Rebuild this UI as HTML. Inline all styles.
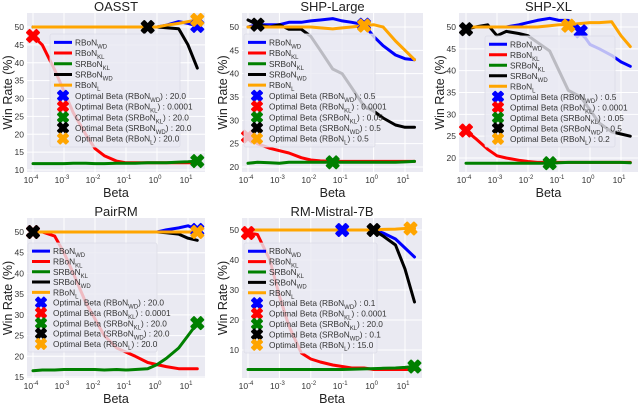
<!DOCTYPE html>
<html><head><meta charset="utf-8">
<style>
body{margin:0;background:#fff;}
svg{display:block;font-family:"Liberation Sans","DejaVu Sans",sans-serif;}
</style></head>
<body>
<svg id="fig" width="640" height="404" viewBox="0 0 640 404" xmlns="http://www.w3.org/2000/svg"></svg>
<script>
// ---- data ----
const betas=[1e-4,2e-4,5e-4,1e-3,2e-3,5e-3,1e-2,2e-2,5e-2,0.1,0.2,0.5,1,2,5,10,20];
const seriesNames=["RBoN_WD","RBoN_KL","SRBoN_KL","SRBoN_WD","RBoN_L"];
const oasstWD=[50,50,50,50,50,50,50,50,50,50,50,50,50,50.5,51.5,51,50.3];
const oasstKL=[47.5,45,38,32,26,20,16,14,12.5,12,12,12,12,12,12,12,12];
const oasstSRKL=[11.8,11.8,11.8,11.8,11.9,11.9,11.8,11.8,11.9,11.9,11.9,12,12,12,12.2,12.3,12.5];
const oasstSRWD=[50,50,50,50,50,50,50,50,50,50,50,50,50,49.8,49.5,45,38.5];
const oasstL=[50,50,50,50,50,50,50,50,50,50,50,50,50,50.5,51,51.5,52];
const oasstOpt=[[20,50.3],[1e-4,47.5],[20,12.5],[0.5,50],[20,52]];
const oasstOptLabels=["20.0","0.0001","20.0","20.0","20.0"];
const shplWD=[50,50.5,50.5,50.5,51,51,51.3,51.5,51.8,51.3,51,50.5,48,46,44,43.2,43];
const shplKL=[26.5,25,24,23.5,23,22,21.5,21.3,21.2,21.2,21.2,21.2,21.2,21.2,21.2,21.2,21.2];
const shplSRKL=[20.8,21,20.9,20.8,21,21,21,21,21,21,21,21,21,21,21,21.1,21.2];
const shplSRWD=[51.5,50.5,50,50.5,49.5,49.5,48,45,41,40,37,33,32,30.5,29,28.5,28.5];
const shplL=[50,50,50,50,50,50,50,49.8,49.6,49.8,50,50.3,50.5,50,47,45,43];
const shplOpt=[[0.5,50.5],[1e-4,26.5],[0.05,21],[2e-4,50.5],[0.5,50.3]];
const shplOptLabels=["0.5","0.0001","0.05","0.5","0.5"];
const shpxWD=[50,50,50,50,50,50.5,51,51.5,52,51.5,51.5,49,46,45,43.5,42,41];
const shpxKL=[26.3,24.5,22,20.5,20,19.5,19.2,19,19,19,19,19,19,19,19,19,19];
const shpxSRKL=[18.8,18.8,18.8,18.8,18.8,18.8,18.8,18.8,18.8,18.9,19,19,19,19,19,19,18.9];
const shpxSRWD=[49.5,50,50.5,48,49,48.5,48,46.5,44.5,40,35.5,34,31,28,26,25.5,25];
const shpxL=[50,50,50,50,50,50,50,50,50.3,50.5,50.5,50.8,51,51,51.2,48,45.5];
const shpxOpt=[[0.5,49],[1e-4,26.3],[0.05,18.8],[1e-4,49.5],[0.2,50.3]];
const shpxOptLabels=["0.5","0.0001","0.05","0.5","0.2"];
const pairWD=[50,50,50,50,50,50,50,50,50,50,50,50,50,50.5,51,51.5,50.5];
const pairKL=[50,50,49,45,40,33,29,25,22,21,20,18.5,18,17.5,17,17,17];
const pairSRKL=[16.5,16.7,16.7,16.8,16.8,16.8,16.8,16.7,16.8,16.7,16.8,17,18,19.5,22,25,28];
const pairSRWD=[50,50,50,50,50,50,50,50,50,50,50,50,50,49.8,49.5,48.5,48];
const pairL=[50,50,50,50,50,50,50,50,50,50,50,50,50,50,50,50,50];
const pairOpt=[[20,50.5],[1e-4,50],[20,28],[1e-4,50],[20,50]];
const pairOptLabels=["20.0","0.0001","20.0","20.0","20.0"];
const mistWD=[50,50,50,50,50,50,50,50,50,50,50,50,50,49,47,44,41];
const mistKL=[49,48.5,40,28,18,9,7,6,5,4.5,4,4,3.5,3.5,3.5,3.5,3.5];
const mistSRKL=[3.5,3.5,3.5,3.5,3.5,3.5,3.5,3.5,3.5,3.5,3.6,3.7,3.8,3.9,4,4.2,4.5];
const mistSRWD=[50,50,50,50,50,50,50,50,50,50,50,50,50,48,45,37,26];
const mistL=[50,50,50,50,50,50,50,50,50,50,50,50,50,50.2,50.3,50.5,50.5];
const mistOpt=[[0.1,50],[1e-4,49],[20,4.5],[1,50],[15,50.5]];
const mistOptLabels=["0.1","0.0001","20.0","0.1","15.0"];
const xTicks=[-4,-3,-2,-1,0,1];

const colors=["#0000ff","#ff0000","#008000","#000000","#ffa500"];
const NS="http://www.w3.org/2000/svg";
const svg=document.getElementById('fig');
function mk(tag,attrs,parent){const e=document.createElementNS(NS,tag);for(const k in attrs)e.setAttribute(k,attrs[k]);(parent||svg).appendChild(e);return e;}

function xMark(g,cx,cy,s,color){
  const a=s*0.5,b=s*0.22;
  const pts=[[-a,-a+b],[-a+b,-a],[0,-b],[a-b,-a],[a,-a+b],[b,0],[a,a-b],[a-b,a],[0,b],[-a+b,a],[-a,a-b],[-b,0]];
  return mk('polygon',{points:pts.map(q=>(cx+q[0]).toFixed(1)+','+(cy+q[1]).toFixed(1)).join(' '),fill:color,stroke:color,'stroke-width':2,'stroke-linejoin':'round'},g);
}
function sub(t,main,subs){
  t.appendChild(document.createTextNode(main));
  const ts=mk('tspan',{'font-size':'6','baseline-shift':'sub'},t);ts.textContent=subs;
}

function panel(c){
  const g=mk('g',{});
  
  
  const xs=v=>c.x10m4+(Math.log10(v)+4)*c.dec;
  const ys=v=>c.yA+(v-c.vA)*(c.yB-c.yA)/(c.vB-c.vA);
  const bg=mk('rect',{x:c.L,y:c.T,width:c.R-c.L,height:c.B-c.T,fill:'#eaeaf2'},g);
  
  
  for(let v=c.yt0;v<=c.yt1+0.01;v+=c.ystep){
    const y=ys(v);
    mk('line',{x1:c.L,x2:c.R,y1:y,y2:y,stroke:'#fff','stroke-width':1},g);
    const t=mk('text',{x:c.L-3,y:y+3,'font-size':8.5,'text-anchor':'end',fill:'#333'},g);
    t.textContent=String(v);
    
    
  }
  xTicks.forEach(e=>{
    const x=xs(Math.pow(10,e));
    mk('line',{x1:x,x2:x,y1:c.T,y2:c.B,stroke:'#fff','stroke-width':1},g);
    const t=mk('text',{x:x-2,y:c.B+11,'font-size':8.5,'text-anchor':'middle',fill:'#333'},g);
    
    
    t.appendChild(document.createTextNode('10'));
    const s=mk('tspan',{'font-size':6,dy:-4},t);s.textContent=String(e);
  });
  c.series.forEach((arr,i)=>{
    const d=arr.map((v,j)=>(j?'L':'M')+xs(betas[j]).toFixed(1)+','+ys(v).toFixed(1)).join('');
    const p=mk('path',{d:d,fill:'none',stroke:colors[i],'stroke-width':3,'stroke-linejoin':'round','stroke-linecap':'round'},g);
    
    
  });
  c.opt.forEach((o,i)=>{
    const m=xMark(g,xs(o[0]),ys(o[1]),12,colors[i]);
    
    
  });
  const lg=mk('g',{},g);
  
  
  mk('rect',{x:c.lx,y:c.ly,width:c.lw,height:c.lh,rx:2,fill:'#eaeaf2','fill-opacity':0.8,stroke:'#dcdce6','stroke-width':0.8},lg);
  const rh=(c.lh-6)/10;
  const lbl=[["RBoN","WD"],["RBoN","KL"],["SRBoN","KL"],["SRBoN","WD"],["RBoN","L"]];
  for(let i=0;i<10;i++){
    const y=c.ly+3+rh*(i+0.5);
    const k=i%5;
    if(i<5){
      mk('line',{x1:c.lx+4,x2:c.lx+22,y1:y,y2:y,stroke:colors[k],'stroke-width':3},lg);
    } else {
      xMark(lg,c.lx+13,y,10,colors[k]);
    }
    const t=mk('text',{x:c.lx+25,y:y+3,'font-size':8.3,fill:'#333'},lg);
    
    
    if(i<5) sub(t,lbl[k][0],lbl[k][1]);
    else{
      t.appendChild(document.createTextNode('Optimal Beta ('+lbl[k][0]));
      const s=mk('tspan',{'font-size':'6','baseline-shift':'sub'},t);s.textContent=lbl[k][1];
      const r=mk('tspan',{},t);r.textContent=') : '+c.optLabels[k];
    }
  }
  const ti=mk('text',{x:(c.L+c.R)/2,y:c.T-2,'font-size':13,'text-anchor':'middle',fill:'#222'},g);
  ti.textContent=c.title;
  
  
  const xl=mk('text',{x:(c.L+c.R)/2,y:c.B+25,'font-size':12.5,'text-anchor':'middle',fill:'#222'},g);
  xl.textContent='Beta';
  
  
  const yc=(c.T+c.B)/2;
  const yl=mk('text',{x:c.yTitleX,y:yc,'font-size':12.5,'text-anchor':'middle',fill:'#222',transform:'rotate(-90 '+c.yTitleX+' '+yc+')'},g);
  yl.textContent='Win Rate (%)';
  
  
}

panel({id:'oasst',title:'OASST',L:27,R:205,T:13,B:172,x10m4:33,dec:31,yA:27,vA:50,yB:170,vB:10,yt0:10,yt1:50,ystep:5,
  series:[oasstWD,oasstKL,oasstSRKL,oasstSRWD,oasstL],opt:oasstOpt,optLabels:oasstOptLabels,lx:50,ly:34,lw:130,lh:113,yTitleX:12});
panel({id:'shp-large',title:'SHP-Large',L:242,R:423,T:13,B:172,x10m4:248,dec:31.4,yA:27,vA:50,yB:167,vB:20,yt0:20,yt1:50,ystep:5,
  series:[shplWD,shplKL,shplSRKL,shplSRWD,shplL],opt:shplOpt,optLabels:shplOptLabels,lx:244,ly:34,lw:131,lh:113,yTitleX:227});
panel({id:'shp-xl',title:'SHP-XL',L:459,R:638,T:13,B:172,x10m4:466,dec:31,yA:27,vA:50,yB:158,vB:20,yt0:20,yt1:50,ystep:5,
  series:[shpxWD,shpxKL,shpxSRKL,shpxSRWD,shpxL],opt:shpxOpt,optLabels:shpxOptLabels,lx:485,ly:36,lw:130,lh:111,yTitleX:444});
panel({id:'pairrm',title:'PairRM',L:27,R:205,T:218,B:378,x10m4:33,dec:31,yA:232,vA:50,yB:377,vB:15,yt0:15,yt1:50,ystep:5,
  series:[pairWD,pairKL,pairSRKL,pairSRWD,pairL],opt:pairOpt,optLabels:pairOptLabels,lx:28,ly:243,lw:129,lh:109,yTitleX:12});
panel({id:'rm-mistral',title:'RM-Mistral-7B',L:242,R:422,T:218,B:378,x10m4:248,dec:31.4,yA:230,vA:50,yB:350,vB:10,yt0:10,yt1:50,ystep:10,
  series:[mistWD,mistKL,mistSRKL,mistSRWD,mistL],opt:mistOpt,optLabels:mistOptLabels,lx:244,ly:243,lw:133,lh:110,yTitleX:227});
</script>
</body></html>
